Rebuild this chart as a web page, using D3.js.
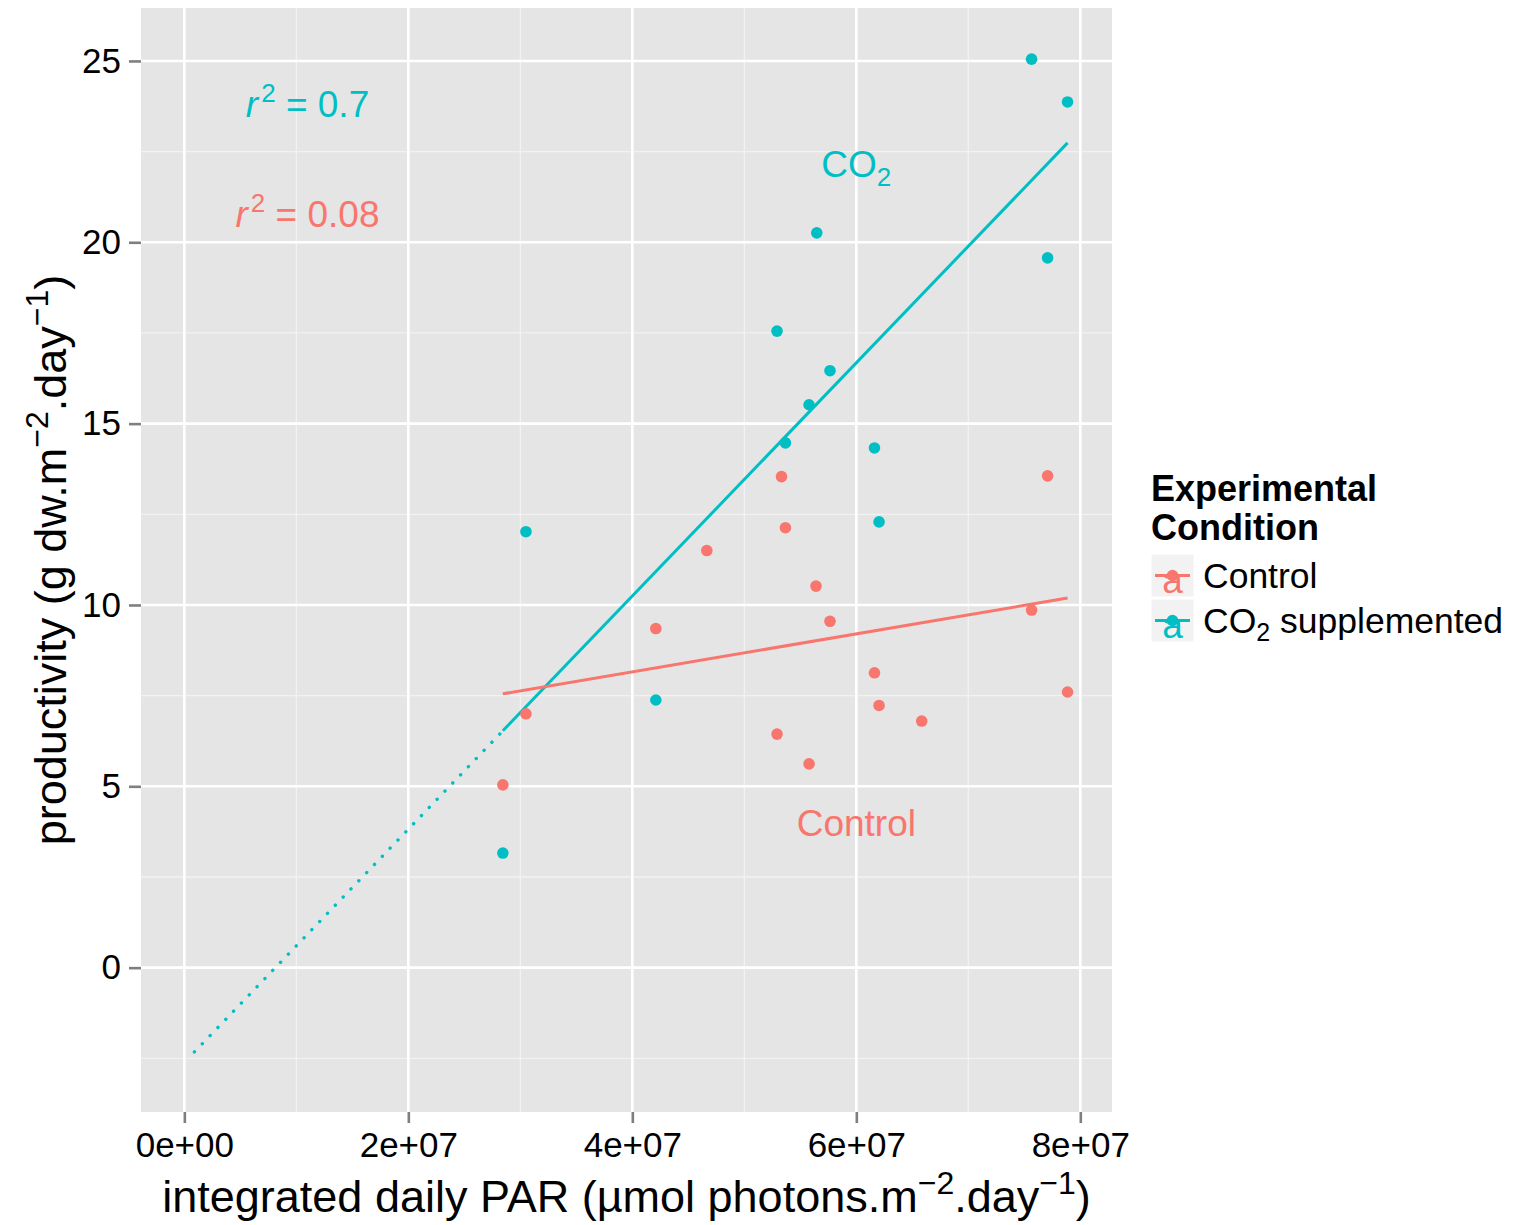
<!DOCTYPE html>
<html>
<head>
<meta charset="utf-8">
<script src="https://cdn.jsdelivr.net/npm/d3@7/dist/d3.min.js"></script>
<style>
  body { margin: 0; background: #fff; }
  svg { display: block; font-family: "Liberation Sans", Arial, sans-serif; }
</style>
</head>
<body>
<svg id="chart" width="1517" height="1225"></svg>
<script>
// integrated daily PAR (x) and productivity (y)
const controlPAR = [7.708e7, 5.332e7, 5.367e7, 4.665e7, 5.640e7, 5.765e7, 4.210e7, 7.565e7,
                    6.162e7, 7.886e7, 6.203e7, 6.584e7, 3.050e7, 5.292e7, 5.578e7, 2.844e7];
const controlProd = [13.56, 13.54, 12.13, 11.50, 10.52, 9.55, 9.35, 9.86,
                     8.13, 7.60, 7.23, 6.80, 7.00, 6.44, 5.62, 5.04];
const co2PAR = [7.565e7, 7.886e7, 5.647e7, 7.708e7, 5.292e7, 5.765e7, 5.578e7,
                5.367e7, 6.162e7, 6.203e7, 3.050e7, 4.210e7, 2.844e7];
const co2Prod = [25.05, 23.87, 20.26, 19.57, 17.55, 16.46, 15.52,
                 14.47, 14.33, 12.29, 12.02, 7.38, 3.16];

// linear fits (intercept, slope per unit PAR) and the x range they were drawn over
const controlFit = { a: 6.061, b: 0.5236e-7, from: 2.844e7, to: 7.886e7 };
const co2Fit = { a: -2.613, b: 3.215e-7, from: 2.844e7, to: 7.886e7, extendFrom: 0.09e7 };

const xTicks = [0, 2e7, 4e7, 6e7, 8e7];
const xMinor = [1e7, 3e7, 5e7, 7e7];
const yTicks = [0, 5, 10, 15, 20, 25];
const yMinor = [-2.5, 2.5, 7.5, 12.5, 17.5, 22.5];

const legendLabels = ['Control', 'CO2 supplemented'];

const red = '#F8766D';
const teal = '#00BFC4';

const svg = d3.select('#chart');
const panel = { left: 141, right: 1112, top: 8, bottom: 1112 };

const x = d3.scaleLinear().domain([-3.87e6, 8.283e7]).range([panel.left, panel.right]);
const y = d3.scaleLinear().domain([-3.98, 26.46]).range([panel.bottom, panel.top]);

// panel background
svg.append('rect')
  .attr('x', panel.left).attr('y', panel.top)
  .attr('width', panel.right - panel.left).attr('height', panel.bottom - panel.top)
  .attr('fill', '#E5E5E5');

const grid = svg.append('g');
grid.selectAll('.vminor').data(xMinor).join('line')
  .attr('x1', d => x(d)).attr('x2', d => x(d))
  .attr('y1', panel.top).attr('y2', panel.bottom)
  .attr('stroke', '#F2F2F2').attr('stroke-width', 1.3);
grid.selectAll('.hminor').data(yMinor).join('line')
  .attr('y1', d => y(d)).attr('y2', d => y(d))
  .attr('x1', panel.left).attr('x2', panel.right)
  .attr('stroke', '#F2F2F2').attr('stroke-width', 1.3);
grid.selectAll('.vmajor').data(xTicks).join('line')
  .attr('x1', d => x(d)).attr('x2', d => x(d))
  .attr('y1', panel.top).attr('y2', panel.bottom)
  .attr('stroke', '#fff').attr('stroke-width', 2.6);
grid.selectAll('.hmajor').data(yTicks).join('line')
  .attr('y1', d => y(d)).attr('y2', d => y(d))
  .attr('x1', panel.left).attr('x2', panel.right)
  .attr('stroke', '#fff').attr('stroke-width', 2.6);

// axes
const sciFmt = d => {
  const [m, e] = d3.format('.0e')(d).split('e');
  return m + 'e' + e[0] + e.slice(1).padStart(2, '0');
};

const xAxis = svg.append('g')
  .attr('transform', `translate(0,${panel.bottom})`)
  .call(d3.axisBottom(x).tickValues(xTicks).tickFormat(sciFmt).tickSize(11).tickPadding(9));
const yAxis = svg.append('g')
  .attr('transform', `translate(${panel.left},0)`)
  .call(d3.axisLeft(y).tickValues(yTicks).tickSize(12).tickPadding(8));

[xAxis, yAxis].forEach(g => {
  g.select('.domain').remove();
  g.selectAll('.tick line').attr('stroke', '#7F7F7F').attr('stroke-width', 2.6);
  g.selectAll('.tick text').attr('fill', '#000').attr('font-size', 35)
    .attr('font-family', '"Liberation Sans", Arial, sans-serif');
});

// fit lines
const line = d3.line().x(d => x(d[0])).y(d => y(d[1]));
const fitPts = (f, a, b) => [[a, f.a + f.b * a], [b, f.a + f.b * b]];

svg.append('path')
  .attr('d', line(fitPts(co2Fit, co2Fit.extendFrom, co2Fit.from)))
  .attr('fill', 'none').attr('stroke', teal).attr('stroke-width', 3.4)
  .attr('stroke-linecap', 'round').attr('stroke-dasharray', '0.1 11.2');
svg.append('path')
  .attr('d', line(fitPts(co2Fit, co2Fit.from, co2Fit.to)))
  .attr('fill', 'none').attr('stroke', teal).attr('stroke-width', 3);
svg.append('path')
  .attr('d', line(fitPts(controlFit, controlFit.from, controlFit.to)))
  .attr('fill', 'none').attr('stroke', red).attr('stroke-width', 3);

// points
svg.append('g').selectAll('circle')
  .data(d3.zip(controlPAR, controlProd)).join('circle')
  .attr('cx', d => x(d[0])).attr('cy', d => y(d[1])).attr('r', 5.8).attr('fill', red);
svg.append('g').selectAll('circle')
  .data(d3.zip(co2PAR, co2Prod)).join('circle')
  .attr('cx', d => x(d[0])).attr('cy', d => y(d[1])).attr('r', 5.8).attr('fill', teal);

// annotations
const ann = svg.append('g').attr('font-size', 37).attr('text-anchor', 'middle');

function rsq(val, px, py, col, dy) {
  const t = ann.append('text').attr('x', x(px)).attr('y', y(py) + dy).attr('fill', col);
  t.append('tspan').attr('font-style', 'italic').text('r');
  t.append('tspan').attr('font-size', 26).attr('dx', 3).attr('dy', -15).text('2');
  t.append('tspan').attr('dy', 15).text(' = ' + val);
}
rsq('0.7', 1.1e7, 24, teal, 19.5);
rsq('0.08', 1.1e7, 21, red, 20.7);

const co2Lab = ann.append('text').attr('x', x(6e7)).attr('y', y(22) + 7).attr('fill', teal);
co2Lab.append('tspan').text('CO');
co2Lab.append('tspan').attr('font-size', 26).attr('dy', 9).text('2');

ann.append('text').attr('x', x(6e7)).attr('y', y(4) + 13.5).attr('fill', red).text('Control');

// axis titles
const xt = svg.append('text').attr('x', (panel.left + panel.right) / 2).attr('y', 1212)
  .attr('text-anchor', 'middle').attr('font-size', 45).attr('fill', '#000');
xt.append('tspan').text('integrated daily PAR (\u00B5mol photons.m');
xt.append('tspan').attr('font-size', 32).attr('dy', -18).text('\u22122');
xt.append('tspan').attr('dy', 18).text('.day');
xt.append('tspan').attr('font-size', 32).attr('dy', -18).text('\u22121');
xt.append('tspan').attr('dy', 18).text(')');

const yt = svg.append('text')
  .attr('transform', `translate(66,${(panel.top + panel.bottom) / 2}) rotate(-90)`)
  .attr('text-anchor', 'middle').attr('font-size', 45).attr('fill', '#000');
yt.append('tspan').text('productivity (g dw.m');
yt.append('tspan').attr('font-size', 32).attr('dy', -18).text('\u22122');
yt.append('tspan').attr('dy', 18).text('.day');
yt.append('tspan').attr('font-size', 32).attr('dy', -18).text('\u22121');
yt.append('tspan').attr('dy', 18).text(')');

// legend
const lg = svg.append('g').attr('transform', 'translate(1151,0)');
lg.append('text').attr('y', 501).attr('font-size', 36).attr('font-weight', 'bold').text('Experimental');
lg.append('text').attr('y', 540).attr('font-size', 36).attr('font-weight', 'bold').text('Condition');

const keys = lg.selectAll('.key').data(legendLabels).join('g')
  .attr('transform', (d, i) => `translate(0,${554 + i * 45})`);
keys.append('rect').attr('width', 43).attr('height', 43).attr('fill', '#F2F2F2')
  .attr('stroke', '#fff').attr('stroke-width', 1);
keys.append('line').attr('x1', 4).attr('x2', 39).attr('y1', 21.5).attr('y2', 21.5)
  .attr('stroke', (d, i) => i ? teal : red).attr('stroke-width', 3);
keys.append('text').attr('x', 21.5).attr('y', 39).attr('text-anchor', 'middle')
  .attr('font-size', 37).attr('fill', (d, i) => i ? teal : red).text('a');
keys.append('circle').attr('cx', 21.5).attr('cy', 21.5).attr('r', 5.8)
  .attr('fill', (d, i) => i ? teal : red);

keys.each(function (d) {
  const t = d3.select(this).append('text').attr('x', 52).attr('y', 34).attr('font-size', 35.5).attr('fill', '#000');
  if (d.startsWith('CO2')) {
    t.append('tspan').text('CO');
    t.append('tspan').attr('font-size', 25).attr('dy', 8).text('2');
    t.append('tspan').attr('dy', -8).text(d.slice(3));
  } else {
    t.text(d);
  }
});
</script>
</body>
</html>
